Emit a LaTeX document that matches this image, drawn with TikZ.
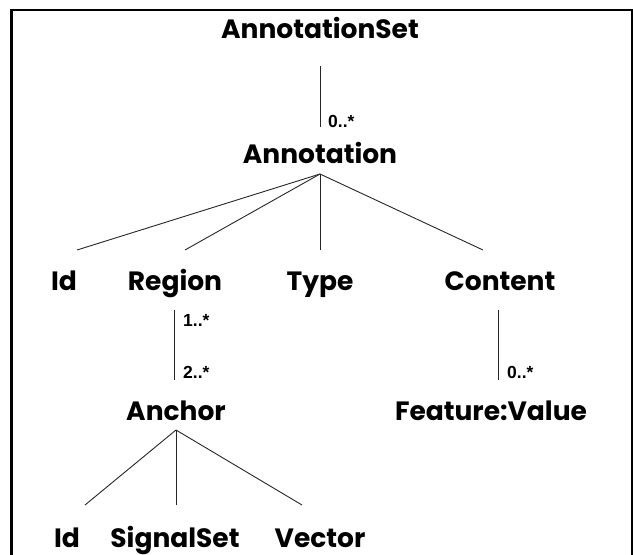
\documentclass[tikz,border=0pt]{standalone}
\usepackage{fontspec}
\newfontfamily\popf{Poppins}
\newfontfamily\arlf{Liberation Sans}
\begin{document}
\begin{tikzpicture}[x=1pt,y=-1pt,
  lbl/.style={anchor=base,inner sep=0pt,font=\popf\bfseries\fontsize{26.5}{30}\selectfont},
  mult/.style={anchor=base west,inner sep=0pt,font=\arlf\bfseries\fontsize{17.5}{20}\selectfont},
  conn/.style={line width=0.9pt,draw=black!85}]
\useasboundingbox (0,0) rectangle (633,555);
\draw[line width=2.2pt] (11.5,560) -- (11.5,10) -- (632,10) -- (632,560);
% nodes
\node[lbl] (aset) at (320,38) {AnnotationSet};
\node[lbl] (ann) at (320,163) {Annotation};
\node[lbl] (id1) at (64,290) {Id};
\node[lbl] (reg) at (175,290) {Region};
\node[lbl] (typ) at (320,290) {Type};
\node[lbl] (con) at (500,290) {Content};
\node[lbl] (anc) at (176,420) {Anchor};
\node[lbl] (fv) at (491,420) {Feature:Value};
\node[lbl] (id2) at (67,547) {Id};
\node[lbl] (sig) at (175,547) {SignalSet};
\node[lbl] (vec) at (320,547) {Vector};
% connector end points
\coordinate (asetb) at (320,66);
\coordinate (annt) at (320,127);
\coordinate (annb) at (320,174);
\coordinate (id1t) at (77,250);
\coordinate (regt) at (185,250);
\coordinate (typt) at (320,250);
\coordinate (cont) at (483,250);
\coordinate (regb) at (174,310);
\coordinate (anct) at (174,380);
\coordinate (conb) at (498,310);
\coordinate (fvt) at (498,380);
\coordinate (ancb) at (176,430);
\coordinate (id2t) at (85,505);
\coordinate (sigt) at (176,505);
\coordinate (vect) at (302,505);
% connectors
\draw[conn] (asetb) -- (annt);
\draw[conn] (annb) -- (id1t);
\draw[conn] (annb) -- (regt);
\draw[conn] (annb) -- (typt);
\draw[conn] (annb) -- (cont);
\draw[conn] (regb) -- (anct);
\draw[conn] (conb) -- (fvt);
\draw[conn] (ancb) -- (id2t);
\draw[conn] (ancb) -- (sigt);
\draw[conn] (ancb) -- (vect);
% multiplicities
\node[mult] (m1) at (328,127) {0..*};
\node[mult] (m2) at (183,326) {1..*};
\node[mult] (m3) at (183,378) {2..*};
\node[mult] (m4) at (507,378) {0..*};
\end{tikzpicture}
\end{document}
